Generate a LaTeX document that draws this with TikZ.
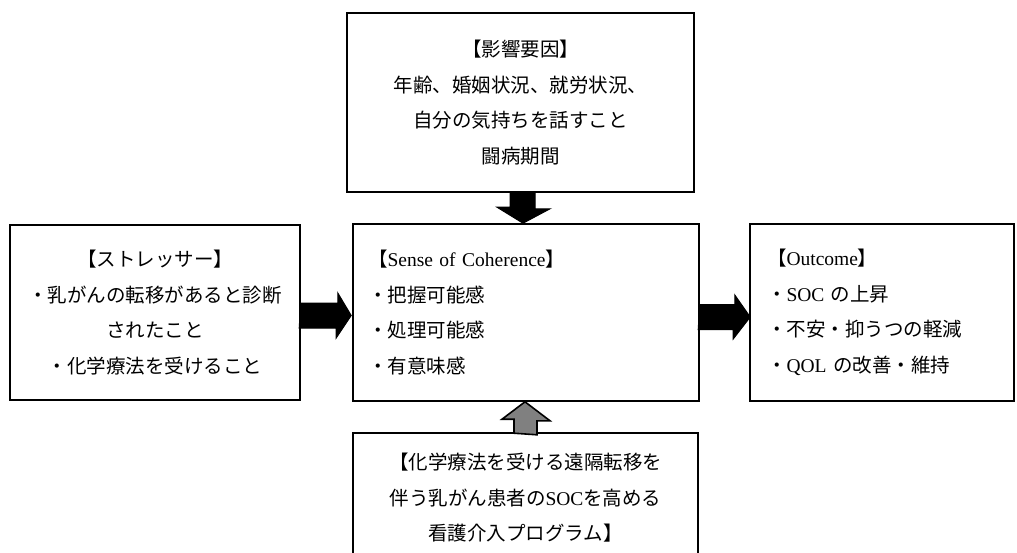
\documentclass[tikz,border=0pt]{standalone}
\usepackage{fontspec}
\setmainfont{Liberation Serif}
\newfontfamily\jp{Noto Sans CJK JP}
\usetikzlibrary{calc}
\begin{document}
\begin{tikzpicture}[x=1pt,y=-1pt,
  box/.style={draw,line width=1.6pt,inner sep=0pt,font=\fontsize{19.5}{35.5}\selectfont},
  blk/.style={draw=black,fill=black,line width=1pt,line join=miter},
  gry/.style={draw=black,fill=gray,line width=1.6pt,line join=miter}]
\useasboundingbox (0,0) rectangle (1017,552);
\clip (0,0) rectangle (1017,552);

\node[box,minimum width=347,minimum height=179,align=center] (top) at (520.5,102.5)
  {{\jp 【影響要因】}\\{\jp 年齢、婚姻状況、就労状況、}\\{\jp 自分の気持ちを話すこと}\\{\jp 闘病期間}};

\node[box,minimum width=290,minimum height=175,align=center] (left) at (155,312.5)
  {{\jp 【ストレッサー】}\\{\jp ・乳がんの転移があると診断}\\{\jp されたこと}\hspace*{28pt}\\{\jp ・化学療法を受けること}};

\node[box,minimum width=346,minimum height=177,text width=316,align=left] (center) at (526,312.5)
  {{\jp 【}Sense of Coherence{\jp 】}\\{\jp ・把握可能感}\\{\jp ・処理可能感}\\{\jp ・有意味感}};

\node[box,minimum width=264,minimum height=177,text width=230,align=left] (right) at (882,312.5)
  {{\jp 【}Outcome{\jp 】}\\{\jp ・}SOC {\jp の上昇}\\{\jp ・不安・抑うつの軽減}\\{\jp ・}QOL {\jp の改善・維持}};

\node[box,minimum width=345,minimum height=130,align=center] (bottom) at (525.5,498)
  {{\jp 【化学療法を受ける遠隔転移を}\\{\jp 伴う乳がん患者の}SOC{\jp を高める}\\{\jp 看護介入プログラム】}};

% top -> center
\filldraw[blk] ($(top.south)+(-10.5,0)$) -- ++(25,0) -- ++(0,16) -- ++(15,0)
  -- ($(center.north)+(-3,0)$) -- ++(-26,-16) -- ++(13,0) -- cycle;
% left -> center
\filldraw[blk] ($(left.east)+(0,-9.5)$) -- ++(37,0) -- ++(0,-10)
  -- ($(center.west)+(-1,3)$) -- ++(-15,22.5) -- ++(0,-10) -- ++(-37,0) -- cycle;
% center -> right
\filldraw[blk] ($(center.east)+(0,-8)$) -- ++(35,0) -- ++(0,-9.5)
  -- ($(right.west)+(1,4.5)$) -- ++(-17,22) -- ++(0,-9.5) -- ++(-35,0) -- cycle;
% bottom -> center
\filldraw[gry] ($(bottom.north)+(-11.5,1)$) -- ++(0,-14) -- ++(-12,0)
  -- ($(center.south)+(-1,0)$) -- ++(25,19) -- ++(-13,0) -- ++(0,14) -- cycle;
\end{tikzpicture}
\end{document}
